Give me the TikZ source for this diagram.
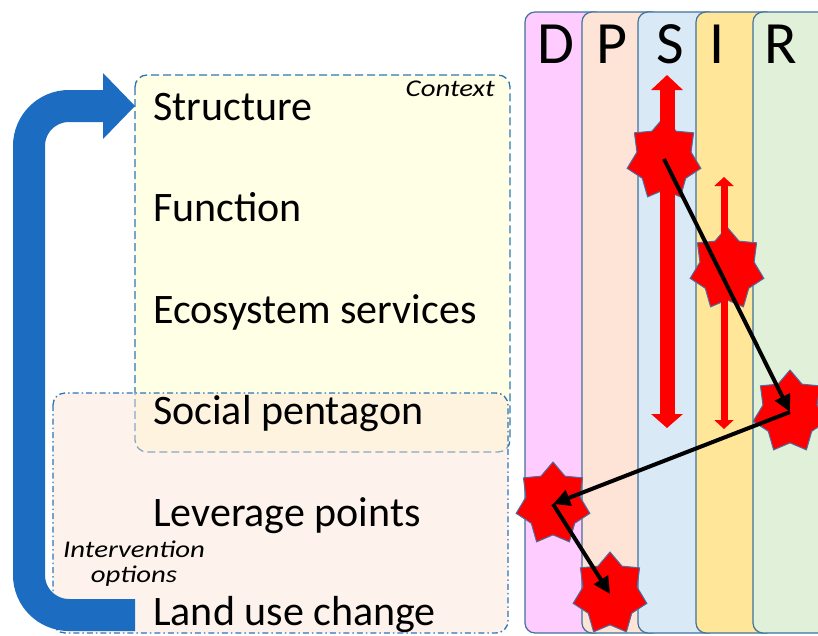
\documentclass[tikz,border=0pt]{standalone}
\usepackage{fontspec}
\setmainfont{Carlito}
\newfontfamily\handfont[FakeStretch=1.2]{Carlito}
\usetikzlibrary{shapes.geometric,arrows.meta}

\definecolor{colD}{HTML}{FFCCFF}
\definecolor{colP}{HTML}{FDE4D6}
\definecolor{colS}{HTML}{DAE9F6}
\definecolor{colI}{HTML}{FFE699}
\definecolor{colR}{HTML}{E0F0D9}
\definecolor{edgeblue}{HTML}{41719C}
\definecolor{boxblue}{HTML}{2E75B6}
\definecolor{ctxfill}{HTML}{FFFFE5}
\definecolor{intfill}{HTML}{FBE5D6}
\definecolor{loopblue}{HTML}{1C6DC1}
\definecolor{starline}{HTML}{4A6FA5}

\begin{document}
\begin{tikzpicture}[x=1pt,y=-1pt,
  column/.style={draw=edgeblue, line width=1.2pt, rounded corners=10pt},
  colletter/.style={font=\fontsize{60}{60}\selectfont, inner sep=0pt, anchor=base},
  itemtext/.style={font=\fontsize{42}{48}\selectfont, inner sep=0pt, anchor=base west},
  handlabel/.style={font=\handfont\itshape\fontsize{24}{28}\selectfont, inner sep=0pt},
  redstar/.style={star, star points=7, star point ratio=1.36, minimum size=84pt,
    inner sep=0pt, fill=red, draw=starline, line width=1pt, transform shape},
  flowarrow/.style={black, line width=4pt, -{Triangle[length=17pt,width=16pt]}},
]
\clip (0,0) rectangle (818,635);
\fill[white] (0,0) rectangle (818,635);

% D P S I R columns, each overlapping the one before
\foreach \xl/\col in {525/colD,582/colP,638/colS,696/colI,753/colR}
  \draw[column, fill=\col] (\xl,12) rectangle ++(80,621);

\node[colletter] (lD) at (556,63) {D};
\node[colletter] (lP) at (612,63) {P};
\node[colletter] (lS) at (670,63) {S};
\node[colletter] (lI) at (717,63) {I};
\node[colletter] (lR) at (781,63) {R};

% context and intervention boxes
\draw[boxblue, line width=1.3pt, dash pattern=on 8pt off 4pt, fill=ctxfill,
  rounded corners=12pt] (135,75) rectangle (510,452);
\fill[intfill, fill opacity=0.45, rounded corners=12pt] (53,393) rectangle (508,633);
\draw[boxblue, line width=1.3pt, dash pattern=on 6pt off 3pt on 1.5pt off 3pt,
  rounded corners=12pt] (53,393) rectangle (508,633);

% feedback loop arrow
\coordinate (loopStart) at (135,615);
\coordinate (loopEnd) at (104,106);
\draw[loopblue, line width=32pt, rounded corners=40pt]
  (loopStart) -- (29,615) -- (29,106) -- (loopEnd);
\fill[loopblue] (103,73) -- (135,106) -- (103,139) -- cycle;

% item texts
\node[itemtext] (tStr) at (153,120) {Structure};
\node[itemtext] (tFun) at (153,221.5) {Function};
\node[itemtext] (tEco) at (153,323) {Ecosystem services};
\node[itemtext] (tSoc) at (153,424.5) {Social pentagon};
\node[itemtext] (tLev) at (153,526) {Leverage points};
\node[itemtext] (tLand) at (153,625) {Land use change};

\node[handlabel, anchor=base east] (hCtx) at (495,96) {Context};
\node[handlabel, anchor=base] (hInt1) at (134,557) {Intervention};
\node[handlabel, anchor=base] (hInt2) at (134,582) {options};

% stars
\begin{scope}[shift={(664,159)}, xscale=0.9]\node[redstar] (sS) at (0,0) {};\end{scope}
\begin{scope}[shift={(727,269)}, xscale=0.9]\node[redstar] (sI) at (0,0) {};\end{scope}
\begin{scope}[shift={(790,412)}, xscale=0.9]\node[redstar] (sR) at (0,0) {};\end{scope}
\begin{scope}[shift={(553,504)}, xscale=0.9]\node[redstar] (sD) at (0,0) {};\end{scope}
\begin{scope}[shift={(610,594)}, xscale=0.9]\node[redstar] (sP) at (0,0) {};\end{scope}

% red ranges
\coordinate (rSt) at (667,75);
\coordinate (rSb) at (667,428);
\coordinate (rIt) at (724,177);
\coordinate (rIb) at (724,429);
\draw[red, line width=15pt,
  {Triangle[length=15pt,width=31pt]}-{Triangle[length=14pt,width=31pt]}] (rSt) -- (rSb);
\draw[red, line width=7pt,
  {Triangle[length=9pt,width=19pt]}-{Triangle[length=9pt,width=19pt]}] (rIt) -- (rIb);

% pathway arrows
\draw[flowarrow] (sS.center) -- (sR.center);
\draw[flowarrow] (sR.center) -- (sD.center);
\draw[flowarrow] (sD.center) -- (sP.center);
\end{tikzpicture}
\end{document}
